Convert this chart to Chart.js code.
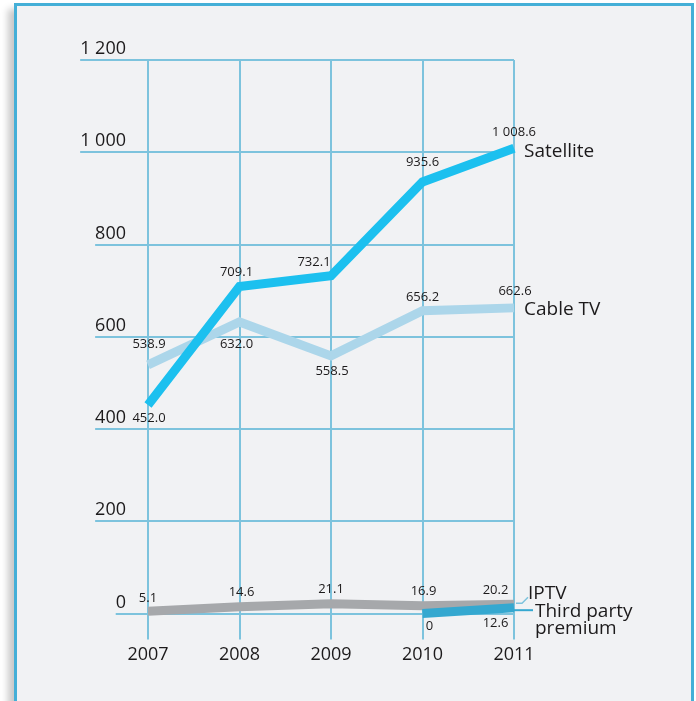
<!DOCTYPE html>
<html lang="en">
<head>
<meta charset="UTF-8">
<title>TV subscribers 2007-2011</title>
<script src="https://cdn.jsdelivr.net/npm/chart.js"></script>
<style>
  html, body { margin: 0; padding: 0; background: #fff; overflow: hidden; }
  /* blue frame with soft shadow on the left */
  .frame {
    position: absolute; left: 14px; top: 3px;
    width: 674px; height: 720px;
    background: #f1f2f4;
    border: 3px solid #44afd7;
    box-shadow: -6px 6px 7px rgba(0,0,0,0.22);
  }
  #chart { position: absolute; left: 0; top: 0; }
</style>
</head>
<body>
<div class="frame"></div>
<canvas id="chart" width="696" height="701"></canvas>

<script>
// data
const years = ['2007', '2008', '2009', '2010', '2011'];
const satellite = [452.0, 709.1, 732.1, 935.6, 1008.6];
const cableTV = [538.9, 632.0, 558.5, 656.2, 662.6];
const iptv = [5.1, 14.6, 21.1, 16.9, 20.2];
const thirdParty = [null, null, null, 0, 12.6];
const yTicks = [0, 200, 400, 600, 800, 1000, 1200];
const yTickLabels = ['0', '200', '400', '600', '800', '1 000', '1 200'];

const FONT = '"Open Sans", "Noto Sans", sans-serif';
const TEXT = '#1c1a1b';
const GRID = '#7dc3dd';

// where each value label sits relative to its point (px)
const labelOffsets = {
  'Satellite': [[1, 13], [-3, -14], [-17, -14], [0, -20], [0, -16]],
  'Cable TV': [[1, -21], [-3, 22], [1, 15], [0, -14], [1, -17]],
  'IPTV': [[0, -12.5], [2, -14], [0, -14], [1, -14], [-18.5, -14]],
  'Third party premium': [null, null, null, [7, 13], [-18.5, 15.5]]
};

// series name at the end of each line
const endLabels = {
  'Satellite': { dx: 10, dy: 9, lines: ['Satellite'] },
  'Cable TV': { dx: 10, dy: 7, lines: ['Cable TV'] },
  'IPTV': { dx: 14, dy: -5, lines: ['IPTV'] },
  'Third party premium': { dx: 21, dy: 9.3, lines: ['Third party', 'premium'] }
};

function fmt(v) {
  if (v === 0) return '0';
  const s = v.toFixed(1);
  const [intPart, dec] = s.split('.');
  return intPart.replace(/\B(?=(\d{3})+(?!\d))/g, ' ') + '.' + dec;
}

const yAxisExtras = {
  id: 'yAxisExtras',
  beforeDatasetsDraw(chart) {
    // grid lines reach left under each tick label
    const ctx = chart.ctx;
    const y = chart.scales.y;
    const left = chart.chartArea.left;
    ctx.save();
    ctx.font = '18px ' + FONT;
    ctx.strokeStyle = GRID;
    ctx.lineWidth = 2;
    yTicks.forEach((v, i) => {
      const w = ctx.measureText(yTickLabels[i]).width;
      const py = Math.round(y.getPixelForValue(v));
      ctx.beginPath();
      ctx.moveTo(left - 22 - w, py);
      ctx.lineTo(left, py);
      ctx.stroke();
    });
    ctx.restore();
  }
};

const labelsPlugin = {
  id: 'labelsPlugin',
  afterDatasetsDraw(chart) {
    const ctx = chart.ctx;
    ctx.save();

    // leader lines for the two small series
    const ip = chart.getDatasetMeta(3).data[4];
    ctx.strokeStyle = GRID;
    ctx.lineWidth = 1.5;
    ctx.beginPath();
    ctx.moveTo(ip.x + 2, ip.y - 1);
    ctx.lineTo(ip.x + 8, ip.y - 1);
    ctx.lineTo(ip.x + 14, ip.y - 7);
    ctx.stroke();

    const tp = chart.getDatasetMeta(2).data[4];
    ctx.strokeStyle = '#35a8d0';
    ctx.lineWidth = 2;
    ctx.beginPath();
    ctx.moveTo(tp.x, tp.y + 2.5);
    ctx.lineTo(tp.x + 19, tp.y + 2.5);
    ctx.stroke();

    ctx.fillStyle = TEXT;
    ctx.font = '13px ' + FONT;
    ctx.textAlign = 'center';
    ctx.textBaseline = 'middle';
    chart.data.datasets.forEach((ds, di) => {
      const meta = chart.getDatasetMeta(di);
      const offs = labelOffsets[ds.label];
      ds.data.forEach((v, i) => {
        if (v === null) return;
        const p = meta.data[i];
        ctx.fillText(fmt(v), p.x + offs[i][0], p.y + offs[i][1]);
      });
    });

    ctx.font = '19px ' + FONT;
    ctx.textAlign = 'left';
    ctx.textBaseline = 'alphabetic';
    chart.data.datasets.forEach((ds, di) => {
      const meta = chart.getDatasetMeta(di);
      const last = meta.data[meta.data.length - 1];
      const e = endLabels[ds.label];
      e.lines.forEach((t, k) => {
        ctx.fillText(t, last.x + e.dx, last.y + e.dy + k * 17.5);
      });
    });
    ctx.restore();
  }
};

function line(label, data, color) {
  return {
    label: label,
    data: data,
    borderColor: color,
    backgroundColor: color,
    borderWidth: 9,
    borderCapStyle: 'butt',
    borderJoinStyle: 'miter',
    pointRadius: 0,
    tension: 0,
    fill: false,
    clip: false
  };
}

new Chart(document.getElementById('chart'), {
  type: 'line',
  data: {
    labels: years,
    // first dataset is drawn on top
    datasets: [
      line('Satellite', satellite, '#1cc0ef'),
      line('Cable TV', cableTV, '#acd6ea'),
      line('Third party premium', thirdParty, '#35a8d0'),
      line('IPTV', iptv, '#a6a8ab')
    ]
  },
  options: {
    responsive: false,
    animation: false,
    devicePixelRatio: 1,
    layout: { padding: { left: 80, right: 182, top: 60, bottom: 0 } },
    plugins: { legend: { display: false }, tooltip: { enabled: false } },
    scales: {
      x: {
        offset: false,
        grid: { color: GRID, lineWidth: 2, tickLength: 26, drawTicks: true },
        border: { display: false },
        ticks: { font: { family: FONT, size: 18 }, color: TEXT, padding: 5, maxRotation: 0 },
        afterFit: s => { s.height = 87.5; }
      },
      y: {
        min: 0,
        max: 1200,
        afterBuildTicks: s => { s.ticks = yTicks.map(v => ({ value: v })); },
        grid: { color: GRID, lineWidth: 2, drawTicks: false },
        border: { display: false },
        ticks: {
          callback: (v, i) => yTickLabels[i],
          crossAlign: 'near',
          padding: 22,
          labelOffset: -11,
          font: { family: FONT, size: 18 },
          color: TEXT
        },
        afterFit: s => { s.width = 68; }
      }
    }
  },
  plugins: [yAxisExtras, labelsPlugin]
});
</script>
</body>
</html>
